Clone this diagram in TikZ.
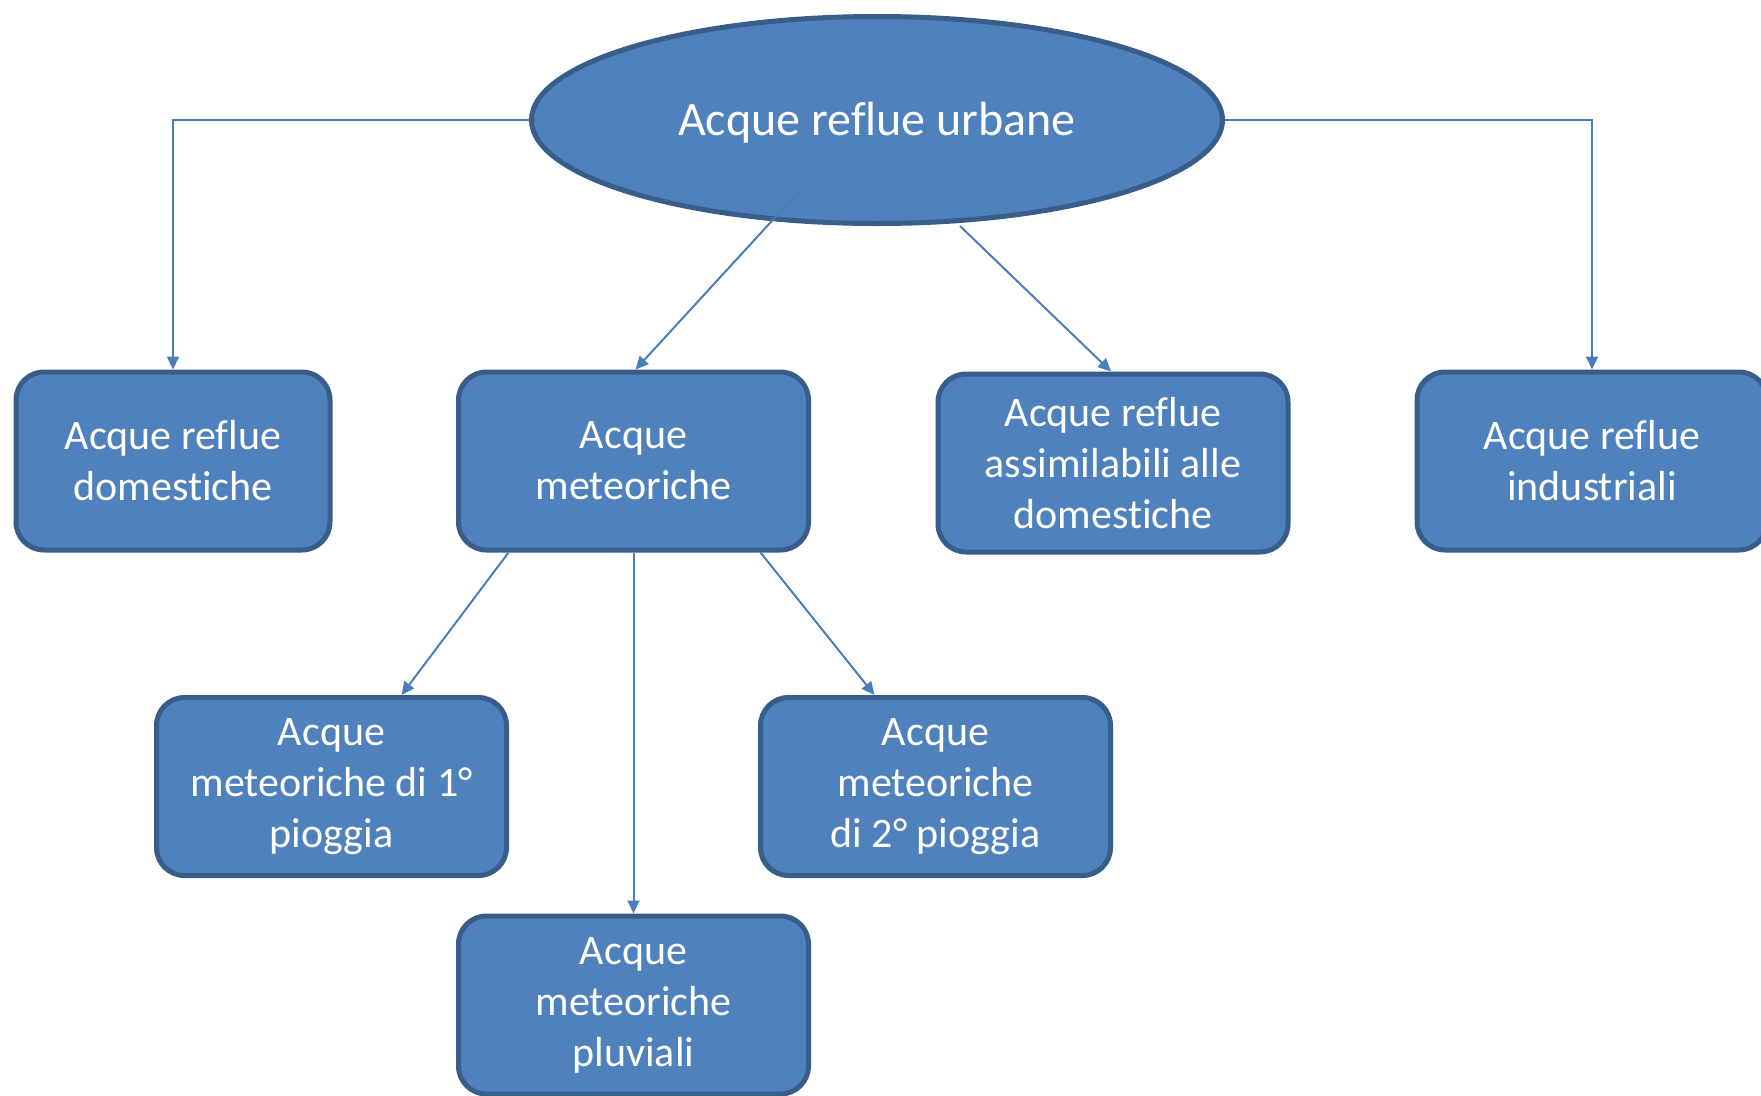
\documentclass[tikz,border=0pt]{standalone}
\usepackage{fontspec}
\setmainfont{Carlito}[Ligatures=NoCommon]
\usetikzlibrary{shapes.geometric,arrows.meta,calc}
\definecolor{boxfill}{HTML}{4F81BD}
\definecolor{boxline}{HTML}{385D8A}
\definecolor{linkcol}{HTML}{4A7EBB}
\begin{document}
\begin{tikzpicture}[x=1pt,y=-1pt,
  box/.style={draw=boxline, fill=boxfill, line width=5pt, rounded corners=28pt,
    minimum width=350pt, minimum height=178pt, inner sep=0pt,
    text=white, align=center, font=\fontsize{42}{51}\selectfont},
  rootshape/.style={ellipse, draw=boxline, fill=boxfill, line width=5pt,
    minimum width=691pt, minimum height=207pt, inner sep=0pt},
  roottext/.style={text=white, inner sep=0pt, font=\fontsize{48}{58}\selectfont},
  link/.style={draw=linkcol, line width=2pt, -{Triangle[length=13pt,width=12pt]}}]
\useasboundingbox (0,0) rectangle (1761,1095);
\clip (0,0) rectangle (1761,1095);
\fill[white] (0,0) rectangle (1761,1095);

% root
\node[rootshape] (root) at (877,120) {};
\node[roottext] (rootlabel) at (877,123) {Acque reflue urbane};

% first level
\node[box, minimum width=314pt] (dom) at (173,461) {Acque reflue\\domestiche};
\node[box] (met) at (633.5,461) {Acque\\meteoriche};
\node[box] (ass) at (1113,463) {Acque reflue\\assimilabili alle\\domestiche};
\node[box] (ind) at (1592,461) {Acque reflue\\industriali};

% second level
\node[box] (p1) at (331.5,786.5) {Acque\\meteoriche di 1°\\pioggia};
\node[box] (p2) at (935.5,786.5) {Acque\\meteoriche\\di 2° pioggia};
\node[box] (pluv) at (633.5,1005) {Acque\\meteoriche\\pluviali};

% connector end points on the ellipse
\coordinate (rootin) at (803,187);
\coordinate (rootbot) at (960,226);

% connectors
\draw[link] (root.west) -| (dom.north);
\draw[link] (root.east) -| (ind.north);
\draw[link] (rootin) -- ($(met.north)+(2,0)$);
\draw[link] (rootbot) -- ($(ass.north)+(-2,0)$);

\draw[link] ($(met.south)+(-125,0)$) -- ($(p1.north)+(70,0)$);
\draw[link] (met.south) -- (pluv.north);
\draw[link] ($(met.south)+(127,0)$) -- ($(p2.north)+(-61,0)$);
\end{tikzpicture}
\end{document}
